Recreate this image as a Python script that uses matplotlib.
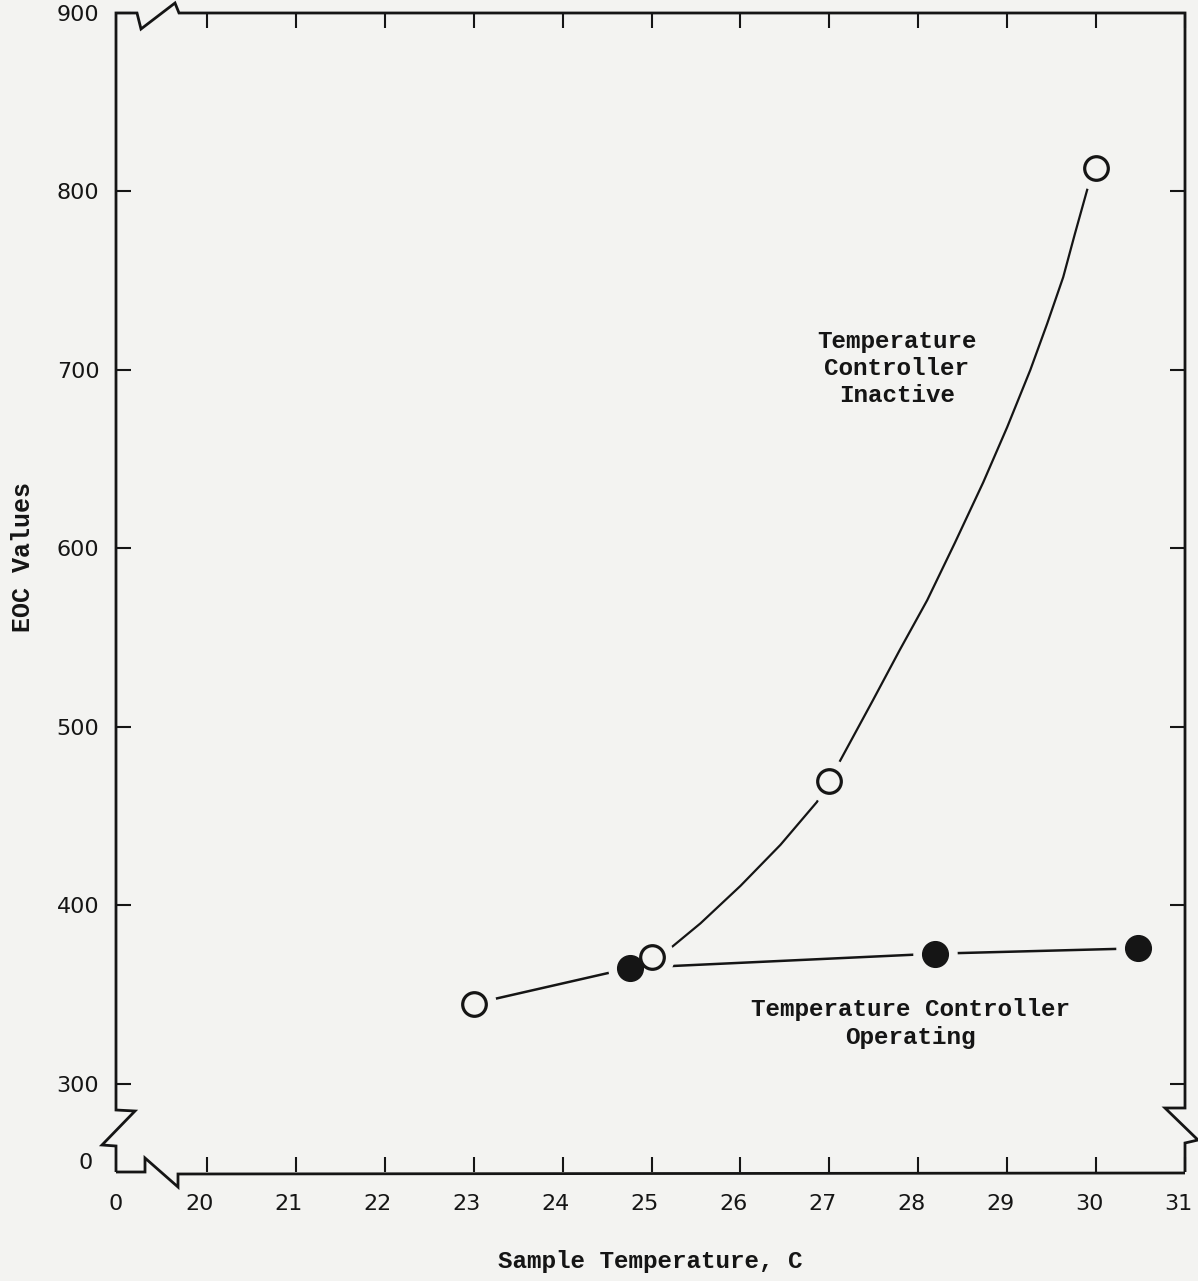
import matplotlib.pyplot as plt
from matplotlib.transforms import blended_transform_factory, ScaledTranslation

# data
inactive_temp = [23, 25, 27, 30]
inactive_eoc = [345, 371, 470, 813]
operating_temp = [24.76, 28.19, 30.47]
operating_eoc = [365, 373, 376]

# lower line runs from the first open point through the filled points
lower_temp = [23, 24.76, 28.19, 30.47]
lower_eoc = [345, 365, 373, 376]

# hand drawn curve through the open points
curve_temp = [25.0, 25.21, 25.55, 26.0, 26.45, 26.86, 27.0, 27.49, 27.79, 28.10,
              28.41, 28.73, 29.0, 29.26, 29.45, 29.63, 29.76, 29.90, 30.0]
curve_eoc = [371, 376, 390, 411, 434, 458, 470, 515, 543, 571,
             603, 637, 668, 700, 726, 752, 776, 801, 813]

x_ticks = [18.976, 20, 21, 22, 23, 24, 25, 26, 27, 28, 29, 30, 31]
x_labels = ['0', '20', '21', '22', '23', '24', '25', '26', '27', '28', '29', '30', '31']
y_ticks = [300, 400, 500, 600, 700, 800, 900]
y_labels = ['300', '400', '500', '600', '700', '800', '900']

bg = '#f3f3f1'
ink = '#151515'

plt.rcParams['font.family'] = ['Liberation Mono', 'DejaVu Sans']

W, H = 1198, 1281
L, R, T, B = 116, 1185, 13, 1172

fig = plt.figure(figsize=(W / 100, H / 100), dpi=100, facecolor=bg)
ax = fig.add_axes([L / W, (H - B) / H, (R - L) / W, (B - T) / H])
ax.set_facecolor(bg)
ax.set_xlim(18.976, 31)
ax.set_ylim(250.7, 900)
for s in ax.spines.values():
    s.set_visible(False)


def frame(pts, **kw):
    xs = [(p[0] - L) / (R - L) for p in pts]
    ys = [(B - p[1]) / (B - T) for p in pts]
    ax.plot(xs, ys, transform=ax.transAxes, clip_on=False, color=ink,
            lw=2.0, solid_joinstyle='miter', solid_capstyle='butt', zorder=5, **kw)


# frame with broken-axis zigzags
frame([(L, B), (L, 1146), (102, 1145), (135, 1111), (L, 1110), (L, T),
       (137, T), (141, 29), (175, 3), (179, T), (R, T), (R, 1108),
       (1165, 1108), (1198, 1140), (R, 1143), (R, B)])
frame([(L, B), (145, B), (145, 1158), (178, 1187), (178, 1174), (R, 1173)])

# lines
ax.plot(lower_temp, lower_eoc, color=ink, lw=1.8, zorder=2)
ax.plot(curve_temp, curve_eoc, color=ink, lw=1.6, zorder=2, solid_joinstyle='round')

# gaps round the markers
ax.plot(inactive_temp + operating_temp, inactive_eoc + operating_eoc, 'o', ms=31,
        mfc=bg, mec=bg, zorder=3)

# markers
ax.plot(operating_temp, operating_eoc, 'o', ms=18.5, mfc=ink, mec=ink, zorder=4)
ax.plot(inactive_temp, inactive_eoc, 'o', ms=17, mfc=bg, mec=ink, mew=2.3, zorder=4)

ax.set_xticks(x_ticks, x_labels)
ax.set_yticks(y_ticks, y_labels)
ax.tick_params(direction='in', length=11, width=1.5, top=True, right=True,
               colors=ink, labelsize=16, labelfontfamily='DejaVu Sans')
ax.tick_params(axis='x', pad=16)
ax.tick_params(axis='y', pad=12)
ax.xaxis.get_major_ticks()[0].tick1line.set_visible(False)
ax.xaxis.get_major_ticks()[0].tick2line.set_visible(False)

# typed labels sit a little left of their ticks
shift = ScaledTranslation(-0.07, 0, fig.dpi_scale_trans)
for lbl in ax.get_xticklabels()[1:]:
    lbl.set_transform(lbl.get_transform() + shift)

# the "0" at the foot of the value axis
trans = blended_transform_factory(ax.transAxes, ax.transData)
ax.text((86 - L) / (R - L), 256, '0', transform=trans, ha='center', va='center',
        fontsize=16, family='DejaVu Sans', color=ink)

ax.set_xlabel('Sample Temperature, C', fontsize=17.5, color=ink, labelpad=26,
              fontweight='bold')
ax.set_ylabel('EOC Values', fontsize=18, color=ink, fontweight='bold')
ax.yaxis.set_label_coords((35 - L) / (R - L), (B - 557) / (B - T))

ax.text(27.76, 701, 'Temperature\nController\nInactive', ha='center', va='center',
        fontsize=17.5, linespacing=1.22, color=ink, fontweight='bold')
ax.text(27.91, 334, 'Temperature Controller\nOperating', ha='center', va='center',
        fontsize=17.5, linespacing=1.3, color=ink, fontweight='bold')

fig.savefig('out.png', dpi=100, facecolor=bg)
